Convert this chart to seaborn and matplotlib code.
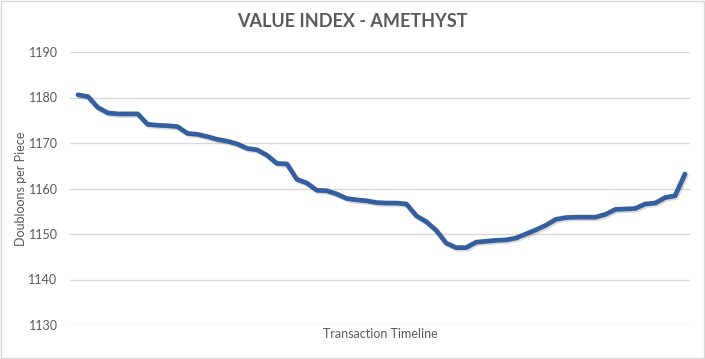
import seaborn as sns
import matplotlib.pyplot as plt
import matplotlib.patheffects as pe
import pandas as pd

values = [1180.6, 1180.2, 1177.8, 1176.6, 1176.4, 1176.4, 1176.4, 1174.1, 1173.9, 1173.8,
          1173.6, 1172.1, 1171.9, 1171.4, 1170.8, 1170.4, 1169.8, 1168.8, 1168.5, 1167.3,
          1165.5, 1165.4, 1162.0, 1161.2, 1159.6, 1159.5, 1158.8, 1157.8, 1157.5, 1157.3,
          1156.9, 1156.8, 1156.8, 1156.6, 1154.0, 1152.7, 1150.8, 1148.0, 1147.0, 1147.0,
          1148.2, 1148.4, 1148.6, 1148.7, 1149.1, 1150.0, 1150.9, 1151.9, 1153.2, 1153.6,
          1153.7, 1153.7, 1153.7, 1154.3, 1155.4, 1155.5, 1155.6, 1156.6, 1156.8, 1158.0,
          1158.4, 1163.2]
y_ticks = [1130, 1140, 1150, 1160, 1170, 1180, 1190]

df = pd.DataFrame({'step': range(len(values)), 'price': values})

sns.set_style('white')
plt.rcParams['font.family'] = ['Lato', 'DejaVu Sans']

fig = plt.figure(figsize=(7.05, 3.59), dpi=100)
ax = fig.add_axes([70 / 705, 1 - 325 / 359, 620 / 705, 273 / 359])

sns.lineplot(data=df, x='step', y='price', ax=ax, color='#355E9E', linewidth=3.4,
             path_effects=[pe.SimpleLineShadow(offset=(1, -1.2), alpha=0.15), pe.Normal()])

ax.set_xlim(-0.8, len(values) - 0.5)
ax.set_ylim(1130, 1190)
ax.set_yticks(y_ticks)
ax.set_xticks([])
ax.grid(axis='y', color='#d9d9d9', linewidth=1)
for s in ax.spines.values():
    s.set_visible(False)
ax.tick_params(axis='y', colors='#595959', labelsize=9, length=0, pad=9)

ax.set_xlabel('Transaction Timeline', color='#595959', fontsize=9, labelpad=2)
ax.set_ylabel('Doubloons per Piece', color='#595959', fontsize=9, labelpad=1)
fig.text(0.5, 0.94, 'VALUE INDEX - AMETHYST', ha='center', va='center',
         fontsize=13, fontweight='bold', color='#595959')

fig.patches.append(plt.Rectangle((0.001, 0.002), 0.997, 0.995, transform=fig.transFigure,
                                 fill=False, edgecolor='#d9d9d9', linewidth=1))

plt.savefig('out.png', dpi=100)
